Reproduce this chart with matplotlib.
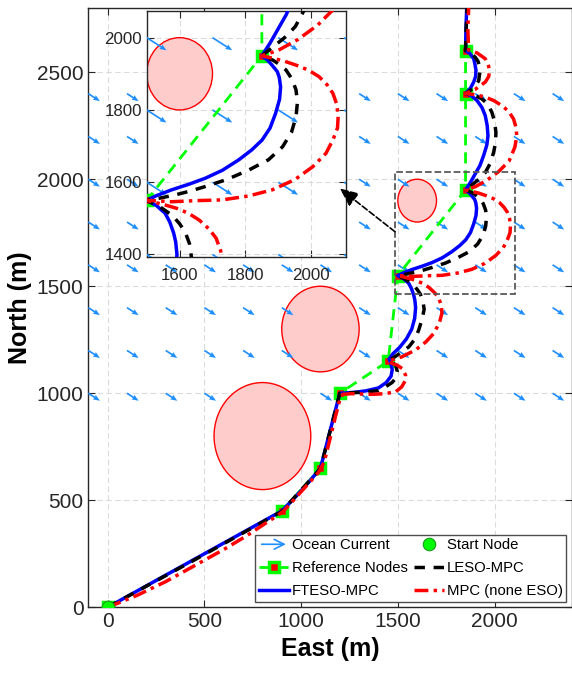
import numpy as np
import matplotlib
matplotlib.use("Agg")
import matplotlib.pyplot as plt
import matplotlib.patches as mpatches
from matplotlib.lines import Line2D
from matplotlib.legend_handler import HandlerPatch

plt.rcParams['font.family'] = ['Liberation Sans', 'DejaVu Sans']

# waypoints handed to the planner
node_east = [0, 900, 1100, 1200, 1450, 1500, 1850, 1850, 1850]
node_north = [0, 450, 650, 1000, 1150, 1550, 1950, 2400, 2600]

# circular obstacles (east, north, radius)
obs_east = [800, 1100, 1600]
obs_north = [800, 1300, 1900]
obs_radius = [250, 200, 100]

# uniform ocean current field
current_east = [-100, 100, 300, 500, 700, 900, 1100, 1300, 1500, 1700, 1900, 2100, 2300]
current_north = [1000, 1200, 1400, 1600, 1800, 2000, 2200, 2400]
current_u = 0.6
current_v = -0.35

# tracked trajectories
fteso_east = [0, 900, 960, 1040, 1100, 1200, 1270, 1333, 1400, 1440, 1465, 1471, 1464, 1455,
              1475, 1510, 1545, 1572, 1587, 1592, 1588, 1582, 1570, 1556, 1530, 1500,
              1530, 1576, 1630, 1678, 1730, 1780, 1820, 1851, 1875, 1892, 1904, 1907, 1903, 1897, 1880, 1867, 1850,
              1875, 1900, 1925, 1945, 1960, 1966, 1962, 1952, 1935, 1909, 1880, 1850,
              1875, 1892, 1902, 1904, 1898, 1892, 1870, 1850, 1852, 1856]
fteso_north = [0, 450, 505, 585, 650, 1000, 1004, 1011, 1025, 1050, 1080, 1110, 1140, 1160,
               1185, 1215, 1255, 1300, 1350, 1400, 1435, 1459, 1490, 1514, 1535, 1550,
               1563, 1579, 1595, 1611, 1633, 1662, 1690, 1717, 1750, 1791, 1830, 1864, 1890, 1906, 1925, 1938, 1950,
               1985, 2025, 2065, 2115, 2160, 2203, 2250, 2297, 2335, 2368, 2390, 2400,
               2425, 2454, 2480, 2509, 2540, 2563, 2590, 2600, 2700, 2800]

leso_east = [0, 450, 900, 1100, 1200, 1300, 1400, 1436, 1470, 1488, 1497, 1490, 1470, 1450,
             1500, 1557, 1590, 1608, 1625, 1636, 1630, 1617, 1600, 1578, 1540, 1500,
             1540, 1587, 1630, 1678, 1745, 1811, 1870, 1913, 1940, 1954, 1958, 1954, 1942, 1923, 1900, 1883, 1850,
             1885, 1923, 1952, 1978, 1995, 2005, 2007, 2000, 1986, 1965, 1934, 1895, 1850,
             1890, 1918, 1926, 1915, 1900, 1875, 1850, 1853, 1858]
leso_north = [0, 222, 448, 648, 1000, 1004, 1012, 1030, 1050, 1069, 1100, 1130, 1145, 1150,
              1180, 1217, 1255, 1296, 1345, 1392, 1430, 1462, 1485, 1508, 1532, 1550,
              1556, 1565, 1575, 1588, 1608, 1634, 1662, 1698, 1738, 1781, 1820, 1855, 1885, 1911, 1928, 1938, 1950,
              1975, 2003, 2031, 2075, 2125, 2170, 2219, 2270, 2313, 2350, 2376, 2393, 2400,
              2425, 2460, 2516, 2550, 2570, 2590, 2600, 2700, 2800]

mpc_east = [0, 150, 300, 450, 600, 720, 820, 880, 910, 960, 1030, 1090, 1120, 1150, 1180, 1200, 1215,
            1260, 1300, 1368, 1430, 1488, 1520, 1540, 1540, 1522, 1495, 1471, 1450,
            1520, 1591, 1645, 1686, 1715, 1728, 1725, 1711, 1690, 1660, 1627, 1590, 1556, 1500,
            1576, 1650, 1729, 1810, 1882, 1950, 2005, 2045, 2066, 2080, 2082, 2078, 2066, 2048, 2024, 1992, 1954, 1915, 1883, 1850,
            1900, 1960, 2020, 2075, 2105, 2115, 2110, 2098, 2072, 2038, 1995, 1952, 1900, 1850,
            1900, 1952, 1970, 1974, 1966, 1952, 1910, 1866, 1862, 1866]
mpc_north = [0, 55, 120, 195, 270, 335, 395, 430, 450, 500, 570, 630, 680, 790, 900, 970, 995,
             998, 997, 995, 998, 1006, 1030, 1061, 1085, 1116, 1132, 1139, 1150,
             1170, 1202, 1240, 1280, 1330, 1374, 1410, 1445, 1470, 1495, 1514, 1528, 1537, 1550,
             1546, 1549, 1551, 1562, 1579, 1607, 1643, 1680, 1717, 1750, 1781, 1815, 1846, 1870, 1892, 1910, 1924, 1936, 1943, 1950,
             1965, 1995, 2035, 2085, 2150, 2203, 2245, 2282, 2318, 2344, 2368, 2384, 2395, 2400,
             2420, 2454, 2480, 2509, 2540, 2563, 2590, 2603, 2700, 2800]

current_color = (0.12, 0.56, 1.0)


def draw_scene(ax):
    for e, n, r in zip(obs_east, obs_north, obs_radius):
        ax.add_patch(mpatches.Circle((e, n), r, facecolor=(1.0, 0.8, 0.8),
                                     edgecolor='red', lw=1.0, zorder=2))
    ge, gn = np.meshgrid(current_east, current_north)
    ge = ge.ravel()
    gn = gn.ravel()
    keep = np.ones(ge.shape, dtype=bool)
    for e, n, r in zip(obs_east, obs_north, obs_radius):
        keep &= np.hypot(ge - e, gn - n) > r
    ax.quiver(ge[keep], gn[keep], np.full(keep.sum(), current_u), np.full(keep.sum(), current_v),
              color=current_color, angles='xy', scale_units='xy', scale=0.01,
              units='dots', width=1.7, headwidth=3.2, headlength=4, headaxislength=3.6, zorder=3)
    ax.plot(node_east, node_north, '--', color=(0, 1, 0), lw=2.0, dashes=(4, 2.5),
            marker='s', ms=7, mfc='red', mec=(0, 1, 0), mew=2.5, zorder=4)
    ax.plot(fteso_east, fteso_north, '-', color='blue', lw=2.5, zorder=5)
    ax.plot(leso_east, leso_north, '--', color='black', lw=2.5, dashes=(3, 2.5), zorder=6)
    ax.plot(mpc_east, mpc_north, '-.', color='red', lw=2.5, dashes=(4, 1.5, 1, 1.5), zorder=7)
    ax.plot(node_east[0], node_north[0], 'o', ms=9, mfc=(0, 1, 0), mec=(0.1, 0.6, 0.1),
            mew=0.8, zorder=8)
    ax.grid(True, ls='--', color='0.86', lw=0.8, dashes=(5, 3))
    ax.set_axisbelow(True)
    ax.tick_params(direction='in', top=True, right=True, length=5, width=0.8, colors='0.15')
    for s in ax.spines.values():
        s.set_linewidth(1.0)
        s.set_color('0.15')


def arrow_patch(legend, orig_handle, xdescent, ydescent, width, height, fontsize):
    return mpatches.FancyArrowPatch((-xdescent, height / 2 - ydescent),
                                    (width - xdescent, height / 2 - ydescent),
                                    arrowstyle='->,head_length=0.7,head_width=0.35',
                                    mutation_scale=10)


fig = plt.figure(figsize=(5.72, 6.79), dpi=100)
ax = fig.add_axes([0.1544, 0.1056, 0.8455, 0.8826])
draw_scene(ax)
ax.set_xlim(-100, 2400)
ax.set_ylim(0, 2800)
ax.set_xticks([0, 500, 1000, 1500, 2000])
ax.set_yticks([0, 500, 1000, 1500, 2000, 2500])
ax.tick_params(labelsize=15)
ax.set_xlabel('East (m)', fontsize=18, fontweight='bold', labelpad=4)
ax.set_ylabel('North (m)', fontsize=18, fontweight='bold', labelpad=3)

# zoom window marker
ax.add_patch(mpatches.Rectangle((1485, 1465), 620, 570, fill=False, ls='--',
                                ec='0.35', lw=1.3, zorder=9))

current_proxy = mpatches.FancyArrowPatch((0, 0), (1, 0), color=current_color, lw=1.2)
start_proxy = Line2D([], [], ls='none', marker='o', ms=9, mfc=(0, 1, 0), mec=(0.1, 0.6, 0.1), mew=0.8)
ref_proxy = Line2D([], [], ls='--', color=(0, 1, 0), lw=2.0, dashes=(4, 2.5),
                   marker='s', ms=7, mfc='red', mec=(0, 1, 0), mew=2.5)
leso_proxy = Line2D([], [], ls='--', color='black', lw=2.5, dashes=(3, 2.5))
fteso_proxy = Line2D([], [], ls='-', color='blue', lw=2.5)
mpc_proxy = Line2D([], [], ls='-.', color='red', lw=2.5, dashes=(4, 1.5, 1, 1.5))

handles = [current_proxy, ref_proxy, fteso_proxy, start_proxy, leso_proxy, mpc_proxy]
labels = ['Ocean Current', 'Reference Nodes', 'FTESO-MPC', 'Start Node', 'LESO-MPC', 'MPC (none ESO)']
leg = ax.legend(handles, labels, ncol=2, loc='lower right', bbox_to_anchor=(0.9886, 0.0088),
                fontsize=10.7, handlelength=2.0, handletextpad=0.2, columnspacing=0.45,
                labelspacing=0.6, borderpad=0.25, borderaxespad=0, fancybox=False,
                framealpha=1, edgecolor='0.3',
                handler_map={mpatches.FancyArrowPatch: HandlerPatch(patch_func=arrow_patch)})
leg.get_frame().set_linewidth(1.0)
leg.set_zorder(20)

# inset close-up
ax_in = fig.add_axes([0.2565, 0.6220, 0.3479, 0.3614])
draw_scene(ax_in)
ax_in.set_xlim(1500, 2105)
ax_in.set_ylim(1394, 2073)
ax_in.set_xticks([1600, 1800, 2000])
ax_in.set_yticks([1400, 1600, 1800, 2000])
ax_in.tick_params(labelsize=12.2)
ax_in.tick_params(axis='x', pad=8)
ax_in.set_facecolor('white')

cp = mpatches.ConnectionPatch(xyA=(1485, 1755), coordsA=ax.transData,
                              xyB=(1200, 1957), coordsB=ax.transData,
                              arrowstyle='-|>,head_length=0.8,head_width=0.35',
                              linestyle='--', color='black', lw=1.2, mutation_scale=14)
fig.add_artist(cp)

fig.savefig('out.png', dpi=100)
